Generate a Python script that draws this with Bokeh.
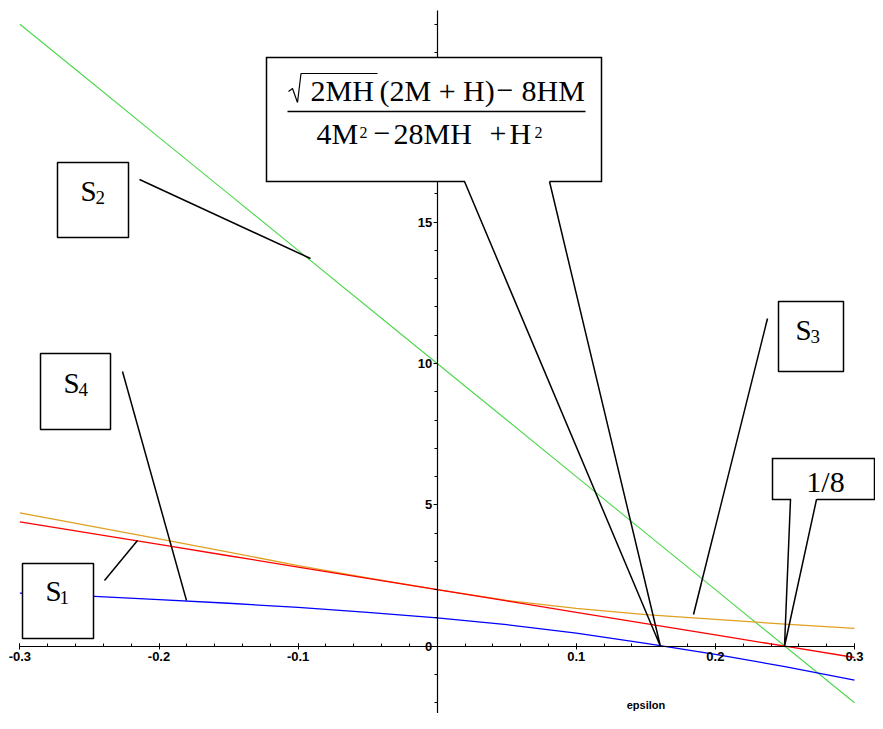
import numpy as np
from bokeh.plotting import figure
from bokeh.models import Range1d, LinearAxis, FixedTicker
from bokeh.core.properties import value
from bokeh.embed import file_html
from bokeh.resources import INLINE

# ---------------- data ----------------
eps = [-0.3, -0.25, -0.2, -0.15, -0.1, -0.05, 0.0, 0.05, 0.1, 0.15, 0.2, 0.25, 0.3]
s1_red = [4.4, 4.0, 3.6, 3.2, 2.8, 2.4, 2.0, 1.6, 1.2, 0.8, 0.4, 0.0, -0.4]
s2_green = [22.0, 20.0, 18.0, 16.0, 14.0, 12.0, 10.0, 8.0, 6.0, 4.0, 2.0, 0.0, -2.0]
s3_orange = [4.72, 4.26, 3.80, 3.33, 2.85, 2.42, 2.00, 1.62, 1.34, 1.12, 0.95, 0.78, 0.63]
s4_blue = [1.88, 1.77, 1.65, 1.52, 1.37, 1.20, 1.00, 0.76, 0.46, 0.10, -0.29, -0.72, -1.20]

x_ticks = [-0.3, -0.2, -0.1, 0.1, 0.2, 0.3]
x_tick_labels = ["-0.3", "-0.2", "-0.1", "0.1", "0.2", "0.3"]
y_ticks = [0, 5, 10, 15, 20]
y_tick_labels = ["0", "5", "10", "15", "20"]
x_label = "epsilon"

# ---------------- layout helpers (reference pixel -> data) ----------------
X0, XS = 436.7, 1391.0
Y0, YS = 645.7, 28.27


def X(px):
    return (px - X0) / XS


def Y(py):
    return (Y0 - py) / YS


W, H = 875, 713
p = figure(width=W, height=H, output_backend="svg", toolbar_location=None,
           x_range=Range1d(X(0), X(W)), y_range=Range1d(Y(H), Y(0)),
           x_axis_location=None, y_axis_location=None,
           min_border=0, outline_line_color=None)
p.xgrid.visible = False
p.ygrid.visible = False
p.background_fill_color = "white"

# axes through the origin
xax = LinearAxis(fixed_location=0,
                 ticker=FixedTicker(ticks=x_ticks,
                                    minor_ticks=[round(v, 2) for v in np.arange(-0.3, 0.3001, 0.02)]),
                 major_label_overrides={t: l for t, l in zip(x_ticks, x_tick_labels)})
xax.bounds = (-0.3, 0.3)
yax = LinearAxis(fixed_location=0,
                 ticker=FixedTicker(ticks=y_ticks, minor_ticks=list(range(-2, 23))),
                 major_label_overrides={t: l for t, l in zip(y_ticks, y_tick_labels)})
yax.bounds = (-2.5, 22.5)
for ax in (xax, yax):
    ax.axis_line_color = "black"
    ax.axis_line_width = 1.2
    ax.major_tick_line_color = "black"
    ax.minor_tick_line_color = "black"
    ax.major_label_text_font = "Liberation Sans"
    ax.major_label_text_font_style = "bold"
    ax.major_label_text_font_size = "13px"
    ax.major_label_text_color = "black"
xax.major_tick_in = 3
xax.major_tick_out = 3
xax.minor_tick_in = 3
xax.minor_tick_out = 0
xax.major_label_standoff = 3
yax.major_tick_in = 0
yax.major_tick_out = 4
yax.minor_tick_in = 0
yax.minor_tick_out = 3
yax.major_label_standoff = 1
p.add_layout(xax, "below")
p.add_layout(yax, "left")

# curves
p.line(eps, s2_green, line_color="#4cd84c", line_width=1.1)
p.line(eps, s3_orange, line_color="#e0a020", line_width=1.3)
p.line(eps, s1_red, line_color="#ff0000", line_width=1.3)
p.line(eps, s4_blue, line_color="#0000ff", line_width=1.3)

# axis title
p.text(x=[X(645.5)], y=[Y(704)], text=[x_label], text_font=value("Liberation Sans"),
       text_font_style="bold", text_font_size="11px", text_align="center",
       text_baseline="middle", text_color="black", level="overlay")

# ---------------- annotations ----------------
OV = dict(level="overlay")
serif = value("Liberation Serif")


def cy(baseline, size):
    # vertical centre of capital letters for a given baseline (reference pixels)
    return Y(baseline - 0.33 * size)


# simple boxes  (left, right, top, bottom) in reference pixels
s_boxes = [(22, 93, 563, 638), (57, 128, 162, 237), (778, 843, 301, 371), (40, 110, 353, 429)]
p.quad(left=[X(b[0]) for b in s_boxes], right=[X(b[1]) for b in s_boxes],
       top=[Y(b[2]) for b in s_boxes], bottom=[Y(b[3]) for b in s_boxes],
       fill_color="white", line_color="black", line_width=1.5, **OV)

pointers = [((104, 580), (137, 540)), ((139, 179), (310, 258)),
            ((767, 318), (693, 614)), ((122, 371), (186, 600))]
p.segment(x0=[X(a[0]) for a, b in pointers], y0=[Y(a[1]) for a, b in pointers],
          x1=[X(b[0]) for a, b in pointers], y1=[Y(b[1]) for a, b in pointers],
          line_color="black", line_width=1.5, **OV)

# S labels: (S left, S baseline, subscript left, digit)
s_texts = [(45, 600, 59, "1"), (80, 200, 95, "2"), (795, 339, 810, "3"), (63, 392, 78, "4")]
p.text(x=[X(t[0]) for t in s_texts], y=[cy(t[1], 29) for t in s_texts], text=["S"] * 4,
       text_font=serif, text_font_size="29px", text_align="left",
       text_baseline="middle", text_color="black", **OV)
p.text(x=[X(t[2]) for t in s_texts], y=[cy(t[1] + 3.5, 19) for t in s_texts], text=[t[3] for t in s_texts],
       text_font=serif, text_font_size="19px", text_align="left",
       text_baseline="middle", text_color="black", **OV)

# fraction callout
p.quad(left=[X(266)], right=[X(601)], top=[Y(57)], bottom=[Y(181)],
       fill_color="white", line_color=None, **OV)
frac_path = [(549, 181), (660, 646), (464, 181), (266, 181), (266, 57), (601, 57), (601, 181), (549, 181)]
p.line([X(a) for a, b in frac_path], [Y(b) for a, b in frac_path],
       line_color="black", line_width=1.5, line_join="miter", **OV)
# fraction bar
p.segment(x0=[X(287)], y0=[Y(111)], x1=[X(585)], y1=[Y(111)], line_color="black", line_width=1.3, **OV)
# radical sign with its vinculum
rad = [(288, 91), (292, 88), (297, 102), (300.5, 73), (377, 73)]
p.line([X(a) for a, b in rad], [Y(b) for a, b in rad], line_color="black", line_width=1.2, **OV)

FS = 30
num_parts = [(310, "2MH"), (379, "(2M + H)"), (496, "−"), (521, "8HM")]
p.text(x=[X(a) for a, t in num_parts], y=[cy(99.5, FS)] * len(num_parts), text=[t for a, t in num_parts],
       text_font=serif, text_font_size=f"{FS}px", text_align="left",
       text_baseline="middle", text_color="black", **OV)
den_parts = [(316, "4M"), (373, "−"), (393, "28MH"), (489, "+"), (509, "H")]
p.text(x=[X(a) for a, t in den_parts], y=[cy(143, FS)] * len(den_parts), text=[t for a, t in den_parts],
       text_font=serif, text_font_size=f"{FS}px", text_align="left",
       text_baseline="middle", text_color="black", **OV)
p.text(x=[X(359), X(534)], y=[cy(137, 16)] * 2, text=["2", "2"],
       text_font=serif, text_font_size="16px", text_align="left",
       text_baseline="middle", text_color="black", **OV)

# 1/8 callout
p.quad(left=[X(772)], right=[X(874)], top=[Y(458)], bottom=[Y(499)],
       fill_color="white", line_color=None, **OV)
eighth_path = [(816, 499), (784, 646), (790, 499), (772, 499), (772, 458), (874, 458), (874, 499), (816, 499)]
p.line([X(a) for a, b in eighth_path], [Y(b) for a, b in eighth_path],
       line_color="black", line_width=1.5, line_join="miter", **OV)
p.text(x=[X(825)], y=[cy(491, FS)], text=["1/8"], text_font=serif, text_font_size=f"{FS}px",
       text_align="center", text_baseline="middle", text_color="black", **OV)

open("out.html", "w").write(file_html(p, INLINE))
